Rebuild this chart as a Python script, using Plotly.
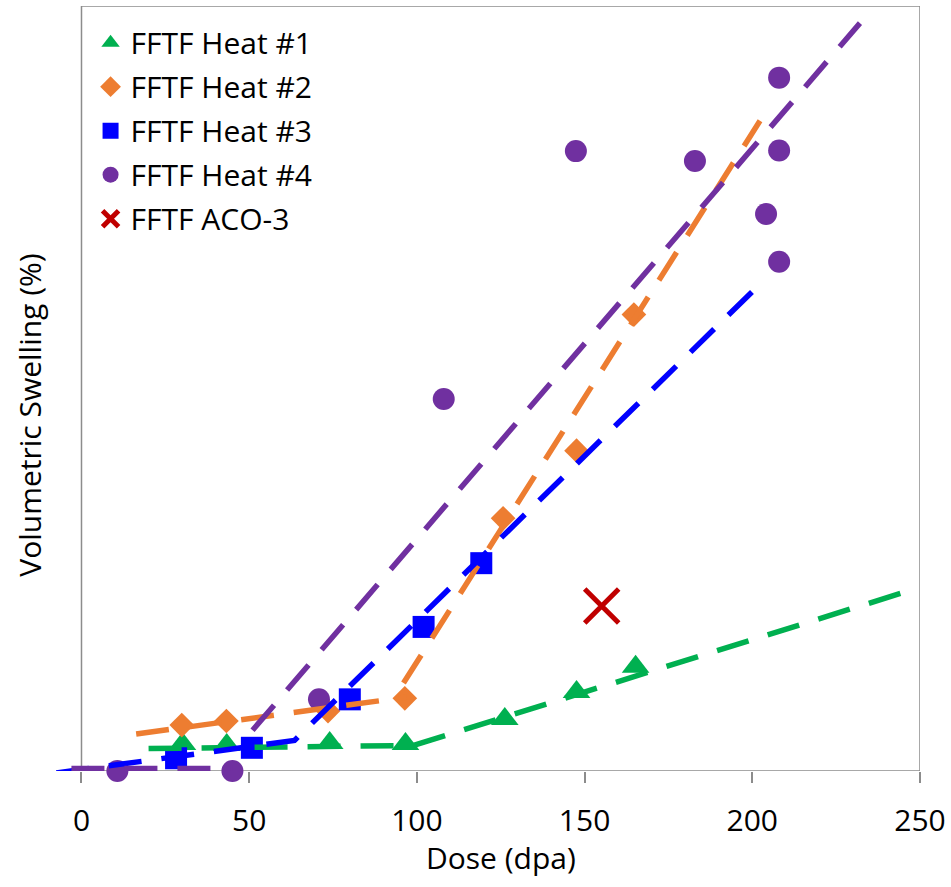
import plotly.graph_objects as go

# ---- data ----
heat1_x = [30.1, 43.3, 74.0, 96.6, 126.2, 147.6, 165.2]
heat1_y = [1.06, 1.02, 1.10, 1.06, 2.04, 3.10, 4.09]

heat2_x = [29.9, 43.2, 73.5, 96.4, 125.7, 147.6, 164.7]
heat2_y = [1.80, 1.96, 2.35, 2.85, 9.91, 12.56, 17.90]

heat3_x = [28.2, 50.8, 80.0, 102.0, 119.2]
heat3_y = [0.50, 0.91, 2.81, 5.65, 8.15]

heat4_x = [10.7, 45.0, 70.8, 108.0, 147.4, 182.9, 208.0, 208.0, 204.1, 208.0]
heat4_y = [0.0, 0.0, 2.81, 14.59, 24.31, 23.92, 27.19, 24.33, 21.84, 19.97]

aco3_x = [155.1]
aco3_y = [6.47]

# trend lines (bilinear fits)
fit1_x = [20.0, 99.0, 245.5]
fit1_y = [0.88, 1.00, 7.02]
fit2_lo_x = [16.3, 97.0]
fit2_lo_y = [1.45, 2.90]
fit2_hi_x = [96.0, 202.3]
fit2_hi_y = [3.45, 25.5]
fit3_x = [-7.5, 63.5, 200.0]
fit3_y = [-0.08, 1.20, 18.8]
fit4_lo_x = [-3.0, 45.0]
fit4_lo_y = [0.10, 0.10]
fit4_hi_x = [51.0, 232.1]
fit4_hi_y = [1.60, 29.33]

x_ticks = [0, 50, 100, 150, 200, 250]

GREEN = "#00B050"
ORANGE = "#ED7D31"
BLUE = "#0000FF"
PURPLE = "#7030A0"
RED = "#C00000"
FONT = "Open Sans"
FS = 30
DASH = "33px,20px"
LW = 5.5

fig = go.Figure()

def marker_trace(x, y, name, color, symbol, size, group, line=None):
    mk = dict(color=color, symbol=symbol, size=size)
    if line:
        mk["line"] = line
    fig.add_trace(go.Scatter(x=x, y=y, mode="markers", name=name, marker=mk,
                             cliponaxis=False, legendgroup=group))

marker_trace(heat1_x, heat1_y, "FFTF Heat #1", GREEN, "triangle-up", 24, "g1")
marker_trace(heat2_x, heat2_y, "FFTF Heat #2", ORANGE, "diamond", 19, "g2")
marker_trace(heat3_x, heat3_y, "FFTF Heat #3", BLUE, "square", 22, "g3")
marker_trace(heat4_x, heat4_y, "FFTF Heat #4", PURPLE, "circle", 22, "g4")
marker_trace(aco3_x, aco3_y, "FFTF ACO-3", RED, "x-thin", 34, "g5",
             line=dict(color=RED, width=5))

def fit_trace(x, y, color):
    fig.add_trace(go.Scatter(x=x, y=y, mode="lines", showlegend=False,
                             line=dict(color=color, width=LW, dash=DASH),
                             hoverinfo="skip"))

fit_trace(fit1_x, fit1_y, GREEN)
fit_trace(fit2_lo_x, fit2_lo_y, ORANGE)
fit_trace(fit2_hi_x, fit2_hi_y, ORANGE)
fit_trace(fit3_x, fit3_y, BLUE)
fit_trace(fit4_lo_x, fit4_lo_y, PURPLE)
fit_trace(fit4_hi_x, fit4_hi_y, PURPLE)

fig.update_layout(
    width=951, height=887,
    margin=dict(l=56, r=31, t=6, b=116),
    plot_bgcolor="white", paper_bgcolor="white",
    font=dict(family=FONT, size=FS, color="black"),
    showlegend=True,
    legend=dict(x=0.04, y=0.986, xanchor="left", yanchor="top",
                bgcolor="rgba(0,0,0,0)", font=dict(size=FS),
                tracegroupgap=2, itemwidth=30),
    xaxis=dict(range=[-7.6, 250], tickvals=x_ticks, showgrid=False,
               zeroline=False, showline=False, ticks="outside", ticklen=11,
               tickwidth=1.5, tickcolor="#8c8c8c", ticklabelstandoff=12,
               tickfont=dict(family=FONT, size=FS, color="black")),
    yaxis=dict(range=[0, 30], showticklabels=False, showgrid=False,
               zeroline=False, showline=False, ticks=""),
    shapes=[dict(type="rect", xref="x", yref="y", x0=0, x1=250, y0=0, y1=30,
                 line=dict(color="#8c8c8c", width=1.5), layer="below")],
    annotations=[
        dict(text="Dose (dpa)", xref="x", yref="paper", x=125, y=-0.1137,
             xanchor="center", yanchor="middle", showarrow=False,
             font=dict(family=FONT, size=FS, color="black")),
        dict(text="Volumetric Swelling (%)", xref="paper", yref="paper",
             x=-0.0307, y=0.465, xanchor="center", yanchor="middle",
             textangle=-90, showarrow=False,
             font=dict(family=FONT, size=FS, color="black")),
    ],
)

fig.write_html("out.html", config={"displayModeBar": False},
               post_script="document.body.style.margin='0px';"
                           "document.body.style.overflow='hidden';")
